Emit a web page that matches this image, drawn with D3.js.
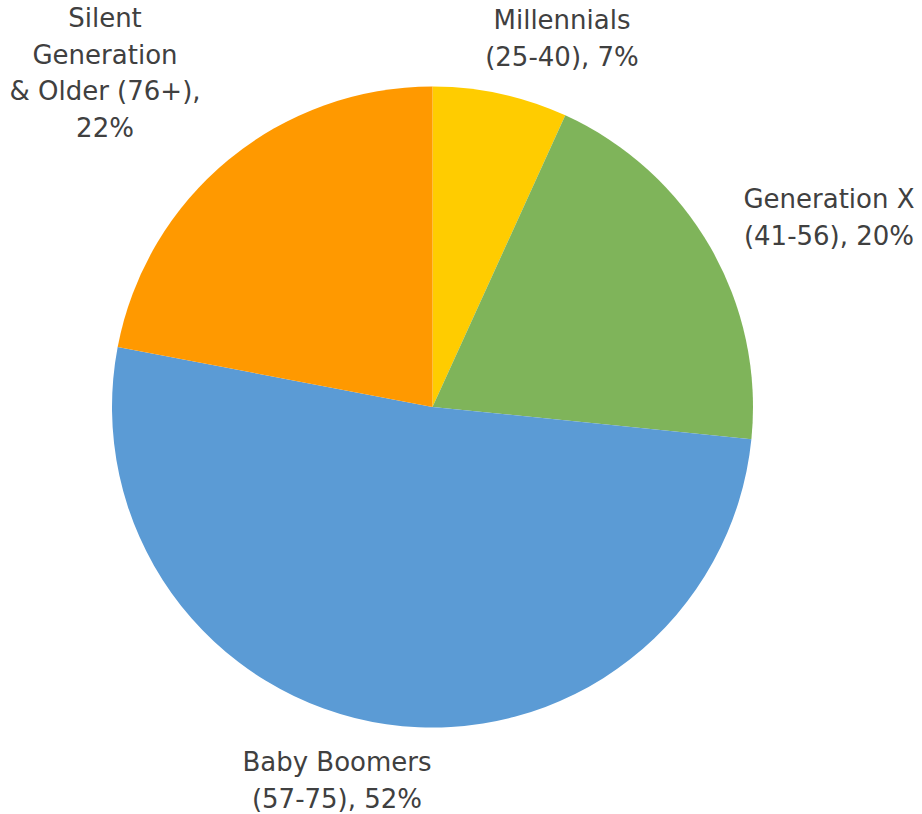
<!DOCTYPE html>
<html><head><meta charset="utf-8">
<script src="https://cdn.jsdelivr.net/npm/d3@7"></script>
<style>body{margin:0;background:#fff}</style>
</head><body>
<svg id="c" width="922" height="814"></svg>
<script>
const categories = ["Millennials (25-40)", "Generation X (41-56)", "Baby Boomers (57-75)", "Silent Generation & Older (76+)"];
const values = [6.8, 19.8, 51.4, 22.0];
const labelLines = [
  ["Millennials", "(25-40), 7%"],
  ["Generation X", "(41-56), 20%"],
  ["Baby Boomers", "(57-75), 52%"],
  ["Silent", "Generation", "& Older (76+),", "22%"]
];
const colors = ["#FFCC00", "#7FB45A", "#5B9BD5", "#FF9900"];

// layout
const cx = 432.5, cy = 407, R = 320.5;
const labelAnchor = [[562, 29], [829, 208], [337, 771], [105, 27]];
const lineH = 36.5;

const svg = d3.select("#c");
const g = svg.append("g").attr("transform", `translate(${cx},${cy})`);
const pie = d3.pie().sort(null).value(d => d)(values);
const arc = d3.arc().innerRadius(0).outerRadius(R);
g.selectAll("path").data(pie).join("path")
  .attr("d", arc).attr("fill", (d, i) => colors[i]);

labelLines.forEach((lines, i) => {
  const t = svg.append("text")
    .attr("x", labelAnchor[i][0]).attr("y", labelAnchor[i][1])
    .attr("text-anchor", "middle")
    .attr("font-family", "'DejaVu Sans', sans-serif")
    .attr("font-size", 26).attr("fill", "#404040");
  lines.forEach((l, j) => t.append("tspan").attr("x", labelAnchor[i][0]).attr("y", labelAnchor[i][1] + j * lineH).text(l));
});
</script>
</body></html>
